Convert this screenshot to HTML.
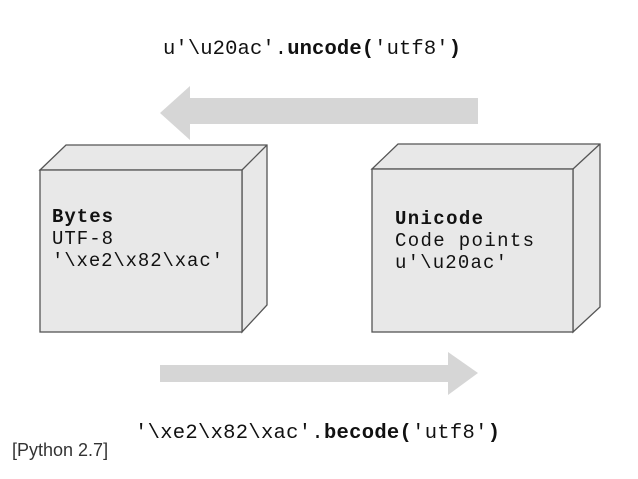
<!DOCTYPE html>
<html><head><meta charset="utf-8"><style>
body{margin:0;background:#fff;width:638px;height:479px;overflow:hidden}
</style></head><body>
<svg width="638" height="479" xmlns="http://www.w3.org/2000/svg" style="display:block">
<g font-family="Liberation Mono, DejaVu Sans Mono, monospace" fill="#111">
<text x="163" y="54" font-size="20.5" textLength="298" lengthAdjust="spacing">u'\u20ac'.<tspan font-weight="bold">uncode(</tspan>'utf8'<tspan font-weight="bold">)</tspan></text>
<text x="135" y="438" font-size="20.5" textLength="365" lengthAdjust="spacing">'\xe2\x82\xac'.<tspan font-weight="bold">becode(</tspan>'utf8'<tspan font-weight="bold">)</tspan></text>
</g>
<polygon points="478,98 190,98 190,86 160,113 190,140 190,124 478,124" fill="#d6d6d6"/>
<polygon points="160,365 448,365 448,352 478,373 448,395 448,382 160,382" fill="#d6d6d6"/>
<g stroke="#555" stroke-width="1.3" fill="#e8e8e8">
<polygon points="40,170 66,145 267,145 267,305 242,332 242,170"/>
<line x1="242" y1="170" x2="267" y2="145"/>
<rect x="40" y="170" width="202" height="162"/>
<polygon points="372,169 398,144 600,144 600,307 573,332 573,169"/>
<line x1="573" y1="169" x2="600" y2="144"/>
<rect x="372" y="169" width="201" height="163"/>
</g>
<g font-family="Liberation Mono, DejaVu Sans Mono, monospace" font-size="19" fill="#111" lengthAdjust="spacing">
<text x="52" y="222" font-weight="bold" textLength="61">Bytes</text>
<text x="52" y="244" textLength="61">UTF-8</text>
<text x="52" y="266" textLength="171">'\xe2\x82\xac'</text>
<text x="395" y="224" font-weight="bold" textLength="88">Unicode</text>
<text x="395" y="246" textLength="139">Code points</text>
<text x="395" y="268" textLength="112">u'\u20ac'</text>
</g>
<text x="12" y="456" font-family="Liberation Sans, Arial, sans-serif" font-size="18" fill="#333">[Python 2.7]</text>
</svg>
</body></html>
